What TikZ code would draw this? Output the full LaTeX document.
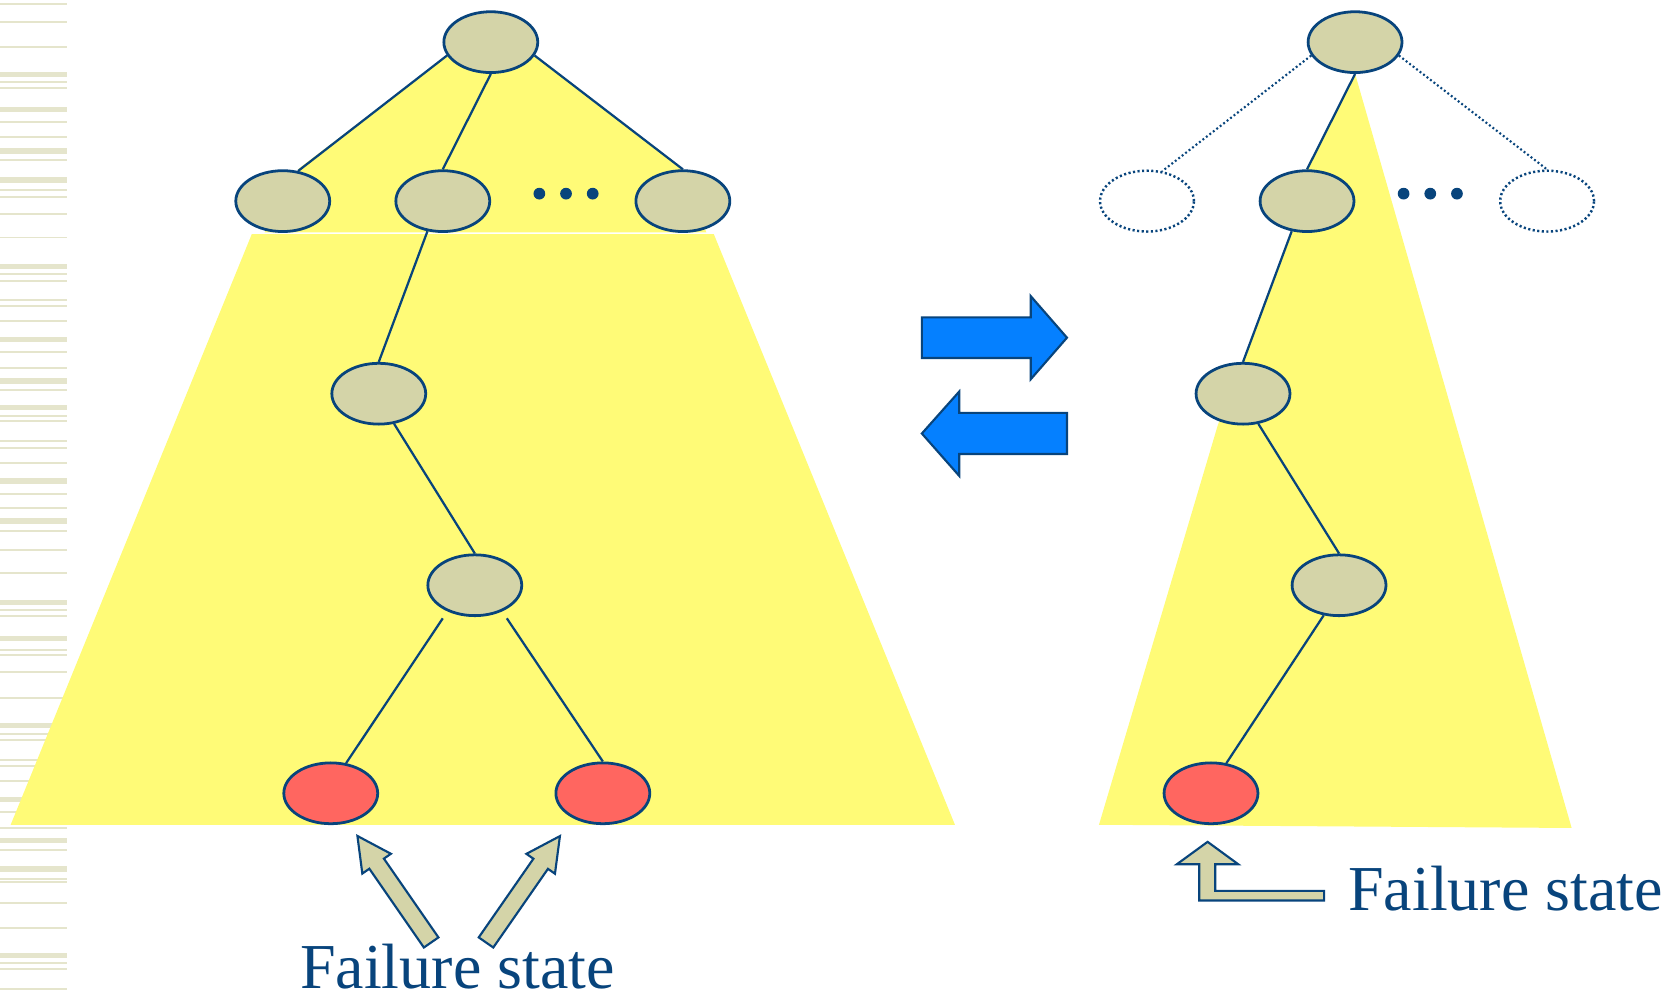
\documentclass[tikz,border=0pt]{standalone}
\usepackage{fontspec}
\setmainfont{Liberation Serif}
\newfontfamily\captionserif{Liberation Serif}
\usetikzlibrary{calc,shapes.geometric}

\definecolor{navy}{RGB}{8,68,124}
\definecolor{statetan}{RGB}{212,212,168}
\definecolor{failred}{RGB}{255,102,96}
\definecolor{hilite}{RGB}{255,251,119}
\definecolor{stripe}{RGB}{229,229,204}
\definecolor{flowblue}{RGB}{5,128,255}

\tikzset{
  state/.style={ellipse, draw=navy, line width=2.6pt, fill=statetan,
    minimum width=88pt, minimum height=57pt, inner sep=0pt},
  failstate/.style={state, fill=failred},
  ghoststate/.style={state, fill=none, line width=2.3pt, dash pattern=on 2pt off 2.3pt},
  link/.style={draw=navy, line width=2.1pt},
  ghostlink/.style={draw=navy, line width=2pt, dash pattern=on 1.8pt off 2.3pt},
  dotmark/.style={fill=navy},
  tanarrow/.style={draw=navy, line width=2pt, fill=statetan, line join=miter},
  swaparrow/.style={draw=navy, line width=2pt, fill=flowblue, line join=miter},
  lbl/.style={text=navy, inner sep=0pt, font=\captionserif\fontsize{60pt}{70pt}\selectfont},
}

\begin{document}
\begin{tikzpicture}[x=1pt, y=-1pt]
\useasboundingbox (0,0) rectangle (1568,936);

% decorative stripes at the left margin
\foreach \y/\h in {3/1.8, 19.7/1.8, 42.9/1.8, 67.3/5, 76.3/1.8, 81.7/1.8, 100.1/5,
  113.2/1.8, 127.5/1.8, 138.9/5, 149/1.8, 166.3/5, 177.6/1.8, 183.6/1.8, 199.7/1.8,
  221.7/1.8, 247.3/5, 256.3/1.8, 262.2/1.8, 280.1/1.8, 286.1/1.8, 299.8/1.8, 315.9/5,
  329/1.8, 343.9/1.8, 354.6/5, 364.8/1.8, 379.7/5, 388.6/1.8, 393.4/1.8, 412.4/1.8,
  419/1.8, 433.3/1.8, 448.2/5, 461.9/1.8, 475.6/1.8, 485.7/5, 496.5/1.8, 514.3/1.8,
  536.4/1.8, 562/5, 571/1.8, 576.3/1.8, 596/5, 607.9/1.8, 612.7/1.8, 628.8/1.8,
  653.2/1.8, 677.7/5, 686.6/1.8, 692.6/1.8, 711/1.8, 717/1.8, 731.3/1.8, 746.8/5,
  759.9/1.8, 774.8/1.8, 785.5/5, 795.7/1.8, 811.8/5, 822.5/1.8, 825.5/1.8, 845.1/1.8,
  869/1.8, 892.8/5, 901.7/1.8, 907.1/1.8, 925.6/1.8}
  \fill[stripe] (0,\y) rectangle (62.5,\y+\h);

% highlighted search regions
\fill[hilite] (460,21) -- (640,158) -- (662,217.8) -- (248,217.8) -- (280,158) -- cycle;
\fill[hilite] (236,219.4) -- (669,219.4) -- (895,773) -- (10,773) -- cycle;
\fill[hilite] (1270,69) -- (1473,776) -- (1030,773) -- (1141.5,398) -- (1165,340)
  -- (1211,218) -- (1225,158) -- cycle;

% left tree
\node[state] (r) at (460,39.5) {};
\node[state] (a) at (265,188.5) {};
\node[state] (b) at (415,188.5) {};
\node[state] (c) at (640,188.5) {};
\node[state] (d) at (355,369) {};
\node[state] (e) at (445,548.5) {};
\node[failstate] (f1) at (310,743.5) {};
\node[failstate] (f2) at (565,743.5) {};

\draw[link] (r.197) -- (a.63);
\draw[link] (r.270) -- (b.90);
\draw[link] (r.343) -- (c.90);
\draw[link] (b.243) -- (d.90);
\draw[link] (d.297) -- (e.90);
\draw[link] ($(e)+(-30,31)$) -- (f1.63);
\draw[link] ($(e)+(30,31)$) -- (f2.90);

\foreach \x in {505.5,530.5,555.5} \fill[dotmark] (\x,181.5) circle (5.5);

% right tree
\node[state] (R) at (1270,39.5) {};
\node[ghoststate] (A) at (1075,188.5) {};
\node[state] (B) at (1225,188.5) {};
\node[ghoststate] (C) at (1450,188.5) {};
\node[state] (D) at (1165,369) {};
\node[state] (E) at (1255,548.5) {};
\node[failstate] (F) at (1135,743.5) {};

\draw[ghostlink] (R.197) -- (A.63);
\draw[link] (R.270) -- (B.90);
\draw[ghostlink] (R.343) -- (C.90);
\draw[link] (B.243) -- (D.90);
\draw[link] (D.297) -- (E.90);
\draw[link] (E.243) -- (F.63);

\foreach \x in {1315.5,1340.5,1365.5} \fill[dotmark] (\x,181.5) circle (5.5);

% swap arrows between the two trees
\draw[swaparrow] (864,297.5) -- (966,297.5) -- (966,277.5) -- (1000,316.5)
  -- (966,355.5) -- (966,335.5) -- (864,335.5) -- cycle;
\draw[swaparrow] (1000,387) -- (899,387) -- (899,367) -- (864,406.3)
  -- (899,446) -- (899,425.5) -- (1000,425.5) -- cycle;

% pointers to the failure states
\begin{scope}[shift={(404.1,883.3)}, rotate=124.7]
  \draw[tanarrow] (0,-8.3) -- (89.8,-8.3) -- (89.8,-16.3) -- (121.4,0)
    -- (89.8,16.3) -- (89.8,8.3) -- (0,8.3) -- cycle;
\end{scope}
\begin{scope}[shift={(455.5,883.3)}, rotate=55.2]
  \draw[tanarrow] (0,-8.3) -- (89.8,-8.3) -- (89.8,-16.3) -- (121.4,0)
    -- (89.8,16.3) -- (89.8,8.3) -- (0,8.3) -- cycle;
\end{scope}
\draw[tanarrow] (1131.8,789) -- (1160.5,810) -- (1139,810) -- (1139,835)
  -- (1241,835) -- (1241,844) -- (1124,844) -- (1124,810) -- (1103,810) -- cycle;

\node[lbl, anchor=base] (t1) at (428.7,926.5) {Failure state};
\node[lbl, anchor=base west] (t2) at (1263.5,853.5) {Failure state};
\end{tikzpicture}
\end{document}
